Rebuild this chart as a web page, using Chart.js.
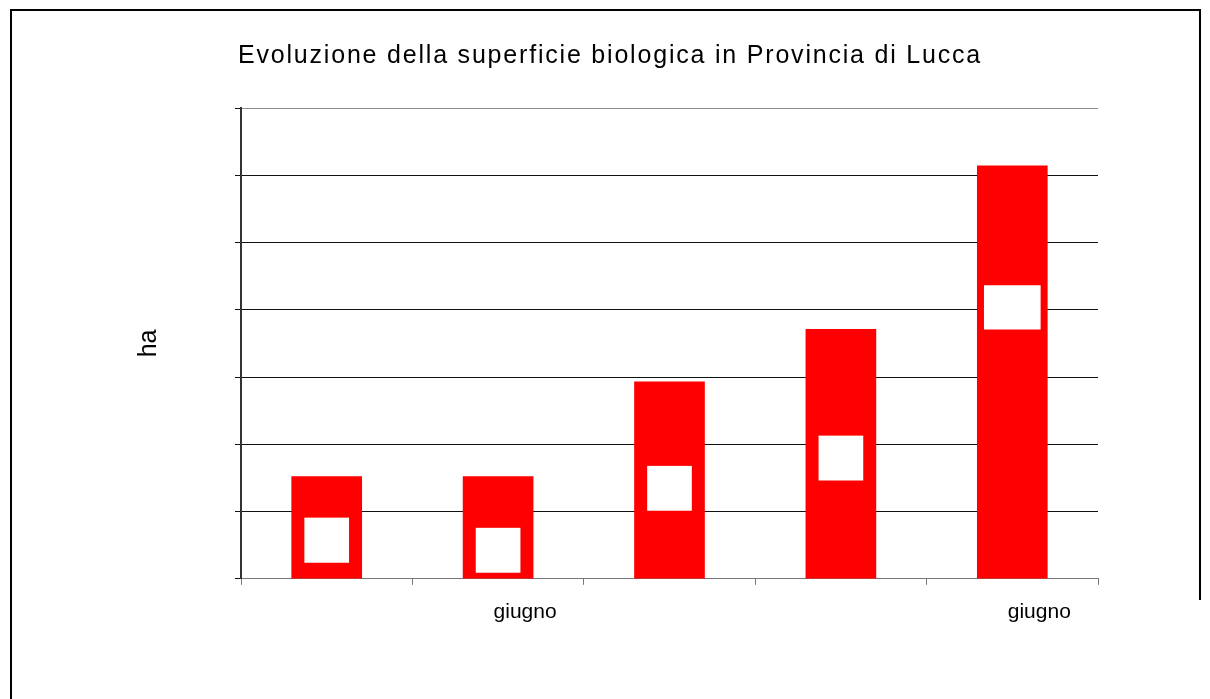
<!DOCTYPE html>
<html>
<head>
<meta charset="utf-8">
<script src="https://cdn.jsdelivr.net/npm/chart.js@4/dist/chart.umd.min.js"></script>
<style>
  body { margin: 0; background: #fff; }
  canvas { display: block; }
</style>
</head>
<body>
<canvas id="grafico" width="1210" height="699"></canvas>
<script>
// dati
var titolo = 'Evoluzione della superficie biologica in Provincia di Lucca';
var categorie = ['', 'giugno', '', '', 'giugno'];
var superficie = [1520, 1520, 2930, 3710, 6140];
// riquadri bianchi delle etichette (da, a)
var etichette = [[240, 910], [90, 760], [1010, 1680], [1460, 2130], [3710, 4360]];
var yMax = 7000;
var yPasso = 1000;

var font = '"Liberation Sans", Arial, sans-serif';

var cornice = {
    id: 'cornice',
    beforeDraw: function(chart) {
        var ctx = chart.ctx;
        ctx.save();
        ctx.fillStyle = '#fff';
        ctx.fillRect(0, 0, chart.width, chart.height);
        ctx.restore();
    },
    afterDraw: function(chart) {
        var ctx = chart.ctx;
        ctx.save();
        ctx.strokeStyle = '#000';
        ctx.lineWidth = 2;
        ctx.beginPath();
        ctx.moveTo(11, 699);
        ctx.lineTo(11, 10);
        ctx.lineTo(1200, 10);
        ctx.lineTo(1200, 600);
        ctx.stroke();
        // titolo
        ctx.fillStyle = '#000';
        ctx.font = '25px ' + font;
        ctx.letterSpacing = '1.8px';
        ctx.textBaseline = 'alphabetic';
        ctx.fillText(titolo, 238, 63);
        ctx.restore();
    }
};

var myChart = new Chart(document.getElementById('grafico'), {
    type: 'bar',
    data: {
        labels: categorie,
        datasets: [{
            data: etichette,
            backgroundColor: '#ffffff',
            borderColor: '#ff0000',
            borderSkipped: false,
            borderWidth: function(c) {
                return c.dataIndex === 4 ? 0 : { left: 6, right: 6, top: 0, bottom: 0 };
            },
            barThickness: 56,
            grouped: false,
            order: 0
        }, {
            data: superficie,
            backgroundColor: '#ff0000',
            barThickness: 70,
            grouped: false,
            order: 1
        }]
    },
    options: {
        responsive: false,
        animation: false,
        layout: { padding: { left: 10, top: 108, right: 112, bottom: 59 } },
        plugins: {
            legend: { display: false },
            tooltip: { enabled: false }
        },
        scales: {
            x: {
                offset: true,
                grid: {
                    offset: true,
                    tickLength: 6,
                    color: function(c) { return c.index === 5 ? '#8c8c8c' : 'rgba(0,0,0,0)'; },
                    tickColor: '#777'
                },
                border: { color: '#777', width: 1 },
                ticks: {
                    autoSkip: false,
                    maxRotation: 0,
                    padding: 15,
                    labelOffset: 27,
                    color: '#000',
                    font: { family: font, size: 21 }
                }
            },
            y: {
                min: 0,
                max: yMax,
                ticks: { display: false, stepSize: yPasso },
                grid: {
                    tickLength: 6,
                    color: function(c) { return c.index === 7 ? '#8c8c8c' : '#111'; },
                    tickColor: '#111'
                },
                border: { color: '#333', width: 2 },
                title: {
                    display: true,
                    text: 'ha',
                    color: '#000',
                    font: { family: font, size: 25 },
                    padding: { top: 124, bottom: 71 }
                }
            }
        }
    },
    plugins: [cornice]
});
</script>
</body>
</html>
